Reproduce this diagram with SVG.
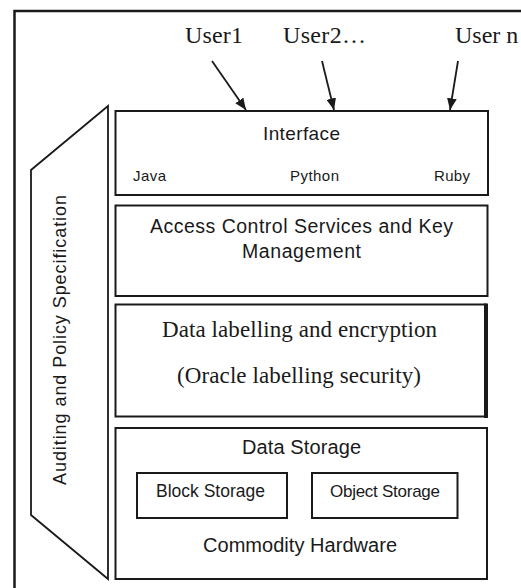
<svg xmlns="http://www.w3.org/2000/svg" width="521" height="588" viewBox="0 0 521 588">
<defs>
<style>
.ln{fill:none;stroke:#1a1a1a;stroke-width:1.8}
.box{fill:#fff;stroke:#1a1a1a;stroke-width:2}
.sans{font-family:"Liberation Sans",Arial,sans-serif;fill:#1a1a1a}
.serif{font-family:"Liberation Serif","Times New Roman",serif;fill:#1a1a1a}
</style>
<marker id="ah" viewBox="0 0 12 10" refX="12" refY="5" markerWidth="6.5" markerHeight="5.5" orient="auto" markerUnits="strokeWidth">
<path d="M0,0 L12,5 L0,10 Z" fill="#1a1a1a"/>
</marker>
</defs>
<rect width="521" height="588" fill="#fff"/>
<rect id="frame" x="14.5" y="11" width="600" height="600" fill="none" stroke="#1a1a1a" stroke-width="2.5"/>

<g id="users">
<text class="serif" x="185" y="43" font-size="24" textLength="58">User1</text>
<text class="serif" x="283" y="43" font-size="24" textLength="83">User2…</text>
<text class="serif" x="455" y="43" font-size="24">User n</text>
</g>

<g id="connectors">
<line class="ln" x1="212" y1="61" x2="246" y2="110" marker-end="url(#ah)"/>
<line class="ln" x1="322" y1="61" x2="334" y2="110" marker-end="url(#ah)"/>
<line class="ln" x1="458" y1="61" x2="450" y2="110" marker-end="url(#ah)"/>
</g>

<g id="auditing">
<path d="M108,106 L31,170 L31,515 L108,579 Z" fill="#fff" stroke="#1a1a1a" stroke-width="1.8"/>
<text class="sans" font-size="18" text-anchor="middle" x="66" y="340" textLength="290" transform="rotate(-90 66 340)">Auditing and Policy Specification</text>
</g>

<g id="interface">
<rect class="box" x="115.5" y="111" width="372.5" height="84"/>
<text class="sans" x="301.5" y="140" font-size="19" text-anchor="middle" textLength="77">Interface</text>
<text class="sans" x="133" y="181" font-size="15" textLength="33">Java</text>
<text class="sans" x="314.5" y="181" font-size="15" text-anchor="middle" textLength="49">Python</text>
<text class="sans" x="434" y="181" font-size="15" textLength="36">Ruby</text>
</g>

<g id="access">
<rect class="box" x="115.5" y="205.5" width="372" height="90.5"/>
<text class="sans" x="301.5" y="233" font-size="19.5" text-anchor="middle" textLength="303">Access Control Services and Key</text>
<text class="sans" x="301.5" y="258" font-size="19.5" text-anchor="middle" textLength="119">Management</text>
</g>

<g id="labelling">
<rect class="box" x="115.5" y="304.5" width="370" height="112"/>
<line x1="486" y1="303.5" x2="486" y2="418" stroke="#1a1a1a" stroke-width="4"/>
<text class="serif" x="299.5" y="337" font-size="23" text-anchor="middle" textLength="275">Data labelling and encryption</text>
<text class="serif" x="299" y="383" font-size="23" text-anchor="middle" textLength="244">(Oracle labelling security)</text>
</g>

<g id="storage">
<rect class="box" x="115.5" y="428" width="371.5" height="151"/>
<text class="sans" x="301.5" y="454" font-size="20" text-anchor="middle" textLength="119">Data Storage</text>
<text class="sans" x="300" y="552" font-size="20" text-anchor="middle" textLength="194">Commodity Hardware</text>
</g>

<g id="block">
<rect class="box" x="137" y="473" width="150" height="45"/>
<text class="sans" x="156" y="497" font-size="17.5" textLength="109">Block Storage</text>
</g>

<g id="object">
<rect class="box" x="312" y="473" width="145.5" height="45"/>
<text class="sans" x="330" y="497" font-size="17" textLength="110">Object Storage</text>
</g>
</svg>
